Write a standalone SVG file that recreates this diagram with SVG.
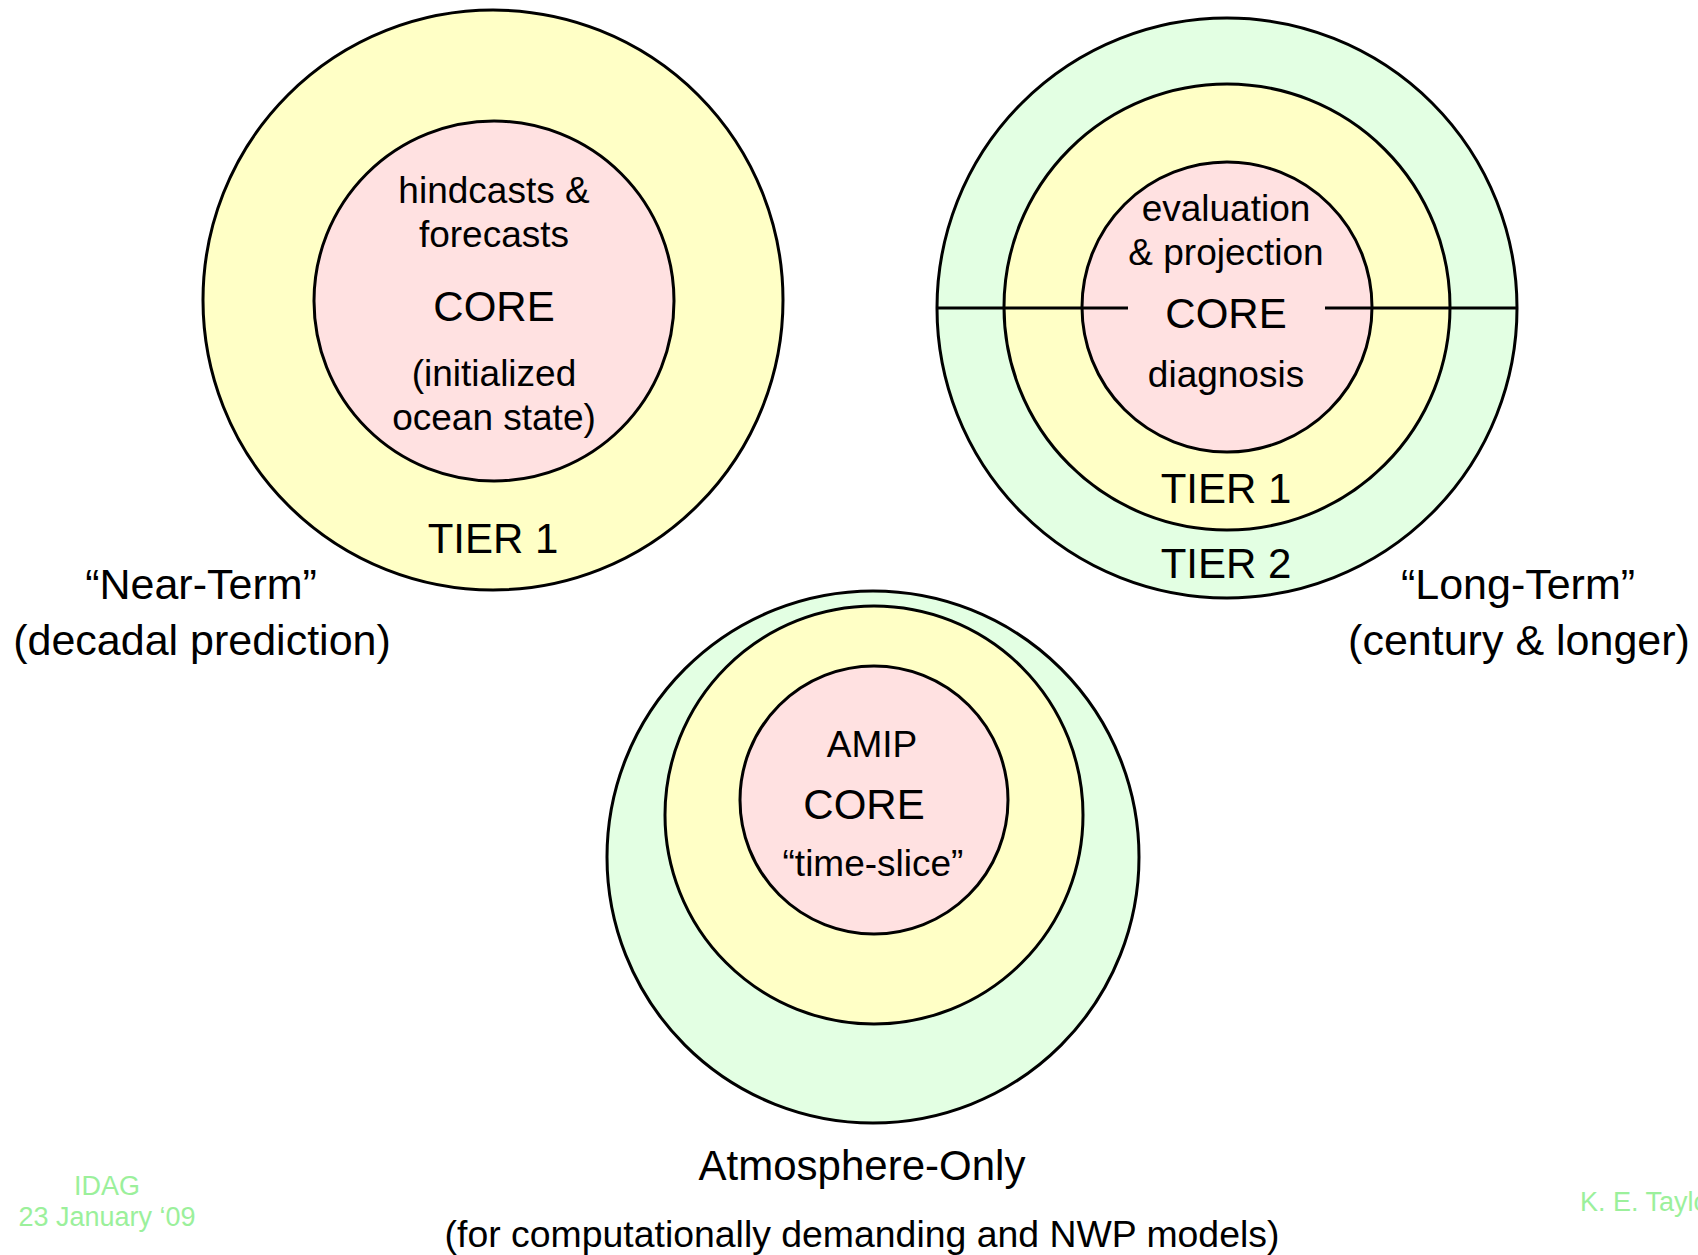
<svg xmlns="http://www.w3.org/2000/svg" width="1698" height="1255" viewBox="0 0 1698 1255">
<style>
.ring{stroke:#000;stroke-width:3}
.y{fill:#ffffc6}
.p{fill:#ffe1e1}
.g{fill:#e3ffe3}
text{font-family:"Liberation Sans",Arial,sans-serif;fill:#000;text-anchor:middle}
.s{font-size:37px}
.b{font-size:42px}
.l{font-size:43px}
.f{font-size:27px;fill:#9bf09b}
</style>
<rect width="1698" height="1255" fill="#fff"/>
<g id="near-term">
<circle class="ring y" cx="493" cy="300" r="290"/>
<circle class="ring p" cx="494" cy="301" r="180"/>
<text class="s" x="494" y="203">hindcasts &amp;</text>
<text class="s" x="494" y="247">forecasts</text>
<text class="b" x="494" y="321">CORE</text>
<text class="s" x="494" y="386">(initialized</text>
<text class="s" x="494" y="430">ocean state)</text>
<text class="b" x="493" y="553">TIER 1</text>
<text class="l" x="201" y="599">“Near-Term”</text>
<text class="l" x="202" y="655">(decadal prediction)</text>
</g>
<g id="long-term">
<circle class="ring g" cx="1227" cy="308" r="290"/>
<circle class="ring y" cx="1227" cy="307" r="223"/>
<circle class="ring p" cx="1227" cy="307" r="145"/>
<text class="s" x="1226" y="221">evaluation</text>
<text class="s" x="1226" y="265">&amp; projection</text>
<text class="b" x="1226" y="328">CORE</text>
<text class="s" x="1226" y="387">diagnosis</text>
<text class="b" x="1226" y="503">TIER 1</text>
<text class="b" x="1226" y="578">TIER 2</text>
<text class="l" x="1518" y="599">“Long-Term”</text>
<text class="l" x="1519" y="655">(century &amp; longer)</text>
</g>
<g id="connectors">
<line class="ring" x1="937" y1="308" x2="1128" y2="308"/>
<line class="ring" x1="1325" y1="308" x2="1517" y2="308"/>
</g>
<g id="atmosphere-only">
<circle class="ring g" cx="873" cy="857" r="266"/>
<circle class="ring y" cx="874" cy="815" r="209"/>
<circle class="ring p" cx="874" cy="800" r="134"/>
<text class="s" x="872" y="757">AMIP</text>
<text class="b" x="864" y="819">CORE</text>
<text class="s" x="873" y="876">“time-slice”</text>
<text class="b" x="862" y="1180">Atmosphere-Only</text>
<text x="862" y="1247" style="font-size:37.4px">(for computationally demanding and NWP models)</text>
</g>
<g id="footer">
<text class="f" x="107" y="1195">IDAG</text>
<text class="f" x="107" y="1226">23 January ‘09</text>
<text class="f" x="1580" y="1211" style="text-anchor:start">K. E. Taylor</text>
</g>
</svg>
